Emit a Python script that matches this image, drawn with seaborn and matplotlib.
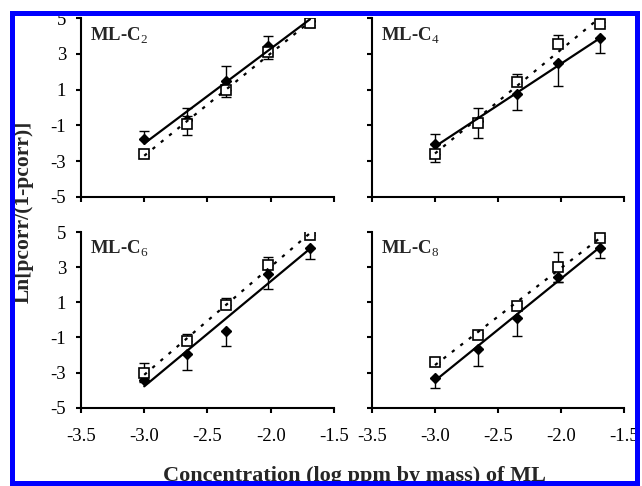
import numpy as np
import pandas as pd
import matplotlib
matplotlib.use("Agg")
import matplotlib.pyplot as plt
import seaborn as sns
from matplotlib.patches import Rectangle

# ---------------- data ----------------
log_conc = [-3.0, -2.66, -2.35, -2.02, -1.69]

panel_names = ["ML-C$_{\\mathrm{2}}$", "ML-C$_{\\mathrm{4}}$",
               "ML-C$_{\\mathrm{6}}$", "ML-C$_{\\mathrm{8}}$"]

# filled diamonds
c2_diamond = [-1.75, -0.70, 1.50, 3.45, 4.85]
c2_diamond_lo = [0.0, 0.0, 0.0, 0.0, 0.2]
c2_diamond_hi = [0.42, 0.65, 0.85, 0.55, 0.2]
c4_diamond = [-2.06, -0.78, 0.76, 2.48, 3.88]
c4_diamond_lo = [0.0, 0.0, 0.9, 1.3, 0.8]
c4_diamond_hi = [0.55, 0.0, 0.0, 0.0, 0.0]
c6_diamond = [-3.40, -1.95, -0.63, 2.60, 4.07]
c6_diamond_lo = [0.15, 0.9, 0.85, 0.85, 0.6]
c6_diamond_hi = [0.0, 0.0, 0.0, 0.0, 0.0]
c8_diamond = [-3.31, -1.65, 0.13, 2.45, 4.11]
c8_diamond_lo = [0.55, 1.0, 1.05, 0.3, 0.6]
c8_diamond_hi = [0.0, 0.0, 0.0, 0.0, 0.0]

# open squares
c2_square = [-2.60, -0.95, 1.00, 3.13, 4.72]
c2_square_lo = [0.1, 0.6, 0.4, 0.42, 0.2]
c2_square_hi = [0.1, 0.5, 0.0, 0.0, 0.2]
c4_square = [-2.62, -0.85, 1.45, 3.54, 4.68]
c4_square_lo = [0.45, 0.85, 0.0, 0.0, 0.1]
c4_square_hi = [0.0, 0.85, 0.4, 0.52, 0.1]
c6_square = [-3.03, -1.23, 0.85, 3.12, 4.83]
c6_square_lo = [0.45, 0.0, 0.0, 0.0, 0.0]
c6_square_hi = [0.6, 0.4, 0.4, 0.45, 0.1]
c8_square = [-2.40, -0.85, 0.81, 3.00, 4.68]
c8_square_lo = [0.1, 0.0, 0.1, 0.87, 0.0]
c8_square_hi = [0.0, 0.1, 0.15, 0.87, 0.1]

x_ticks = [-3.5, -3.0, -2.5, -2.0, -1.5]
x_ticklabels = ["-3.5", "-3.0", "-2.5", "-2.0", "-1.5"]
y_ticks = [-5, -3, -1, 1, 3, 5]
y_ticklabels = ["-5", "-3", "-1", "1", "3", "5"]

x_label = "Concentration (log ppm by mass) of ML"
y_label = "Ln[pcorr/(1-pcorr)]"

diamonds = [(c2_diamond, c2_diamond_lo, c2_diamond_hi),
            (c4_diamond, c4_diamond_lo, c4_diamond_hi),
            (c6_diamond, c6_diamond_lo, c6_diamond_hi),
            (c8_diamond, c8_diamond_lo, c8_diamond_hi)]
squares = [(c2_square, c2_square_lo, c2_square_hi),
           (c4_square, c4_square_lo, c4_square_hi),
           (c6_square, c6_square_lo, c6_square_hi),
           (c8_square, c8_square_lo, c8_square_hi)]

# ---------------- style ----------------
sns.set_style("ticks")
plt.rcParams['font.family'] = ['Liberation Serif', 'DejaVu Serif']
plt.rcParams['mathtext.fontset'] = 'custom'
plt.rcParams['mathtext.rm'] = 'Liberation Serif'
plt.rcParams['mathtext.bf'] = 'Liberation Serif:bold'
plt.rcParams['axes.unicode_minus'] = False

W, H = 642, 486
fig = plt.figure(figsize=(W / 100, H / 100), dpi=100)
fig.patch.set_facecolor('white')

def px_box(left, right, top, bottom):
    return [left / W, 1 - bottom / H, (right - left) / W, (bottom - top) / H]

boxes = [px_box(81, 334, 18.3, 196.7), px_box(372, 624, 18.3, 196.7),
         px_box(81, 334, 232, 407.7), px_box(372, 624, 232, 407.7)]

for i in range(4):
    ax = fig.add_axes(boxes[i])
    ax.set_facecolor('white')
    dy, dlo, dhi = diamonds[i]
    sy, slo, shi = squares[i]

    ax.errorbar(log_conc, dy, yerr=[dlo, dhi], fmt='none', ecolor='black',
                elinewidth=1.0, capsize=3.5, capthick=1.0, zorder=2)
    ax.errorbar(log_conc, sy, yerr=[slo, shi], fmt='none', ecolor='black',
                elinewidth=1.0, capsize=3.5, capthick=1.0, zorder=2)
    ax.plot(log_conc, dy, linestyle='none', marker='D', ms=4.6,
            color='black', zorder=3)
    ax.plot(log_conc, sy, linestyle='none', marker='s', ms=7,
            mfc='white', mec='black', mew=1.2, zorder=3)

    sns.regplot(x=log_conc, y=dy, ax=ax, scatter=False, ci=None, truncate=True,
                line_kws=dict(color='black', lw=1.6, zorder=4))
    sns.regplot(x=log_conc, y=sy, ax=ax, scatter=False, ci=None, truncate=True,
                line_kws=dict(color='black', lw=1.6, zorder=4,
                              linestyle=(0, (1.5, 3.3))))

    ax.set_xlim(-3.5, -1.5)
    ax.set_ylim(-5, 5)
    ax.set_xticks(x_ticks)
    ax.set_yticks(y_ticks)
    ax.set_xticklabels(x_ticklabels if i >= 2 else [])
    ax.set_yticklabels(y_ticklabels if i % 2 == 0 else [])
    ax.set_xlabel("")
    ax.set_ylabel("")
    for s in ['top', 'right']:
        ax.spines[s].set_visible(False)
    for s in ['left', 'bottom']:
        ax.spines[s].set_linewidth(1.5)
        ax.spines[s].set_color('black')
    ax.tick_params(axis='both', direction='out', length=3.8, width=1.5,
                   color='black', labelsize=13.5, labelcolor='black')
    ax.tick_params(axis='x', pad=11)
    ax.tick_params(axis='y', pad=7)
    ax.text(0.036, 0.875, panel_names[i], transform=ax.transAxes,
            fontsize=13.5, fontweight='bold', ha='left', va='baseline')

fig.text(354 / W, 1 - 481 / H, x_label, fontsize=16, fontweight='bold',
         ha='center', va='baseline')
fig.text(24 / W, 1 - 212 / H, y_label, fontsize=15.5, fontweight='bold',
         ha='center', va='center', rotation=90)

# frame: white outside, blue border
def add_rect(l, t, r, b, color):
    fig.add_artist(Rectangle((l / W, 1 - b / H), (r - l) / W, (b - t) / H,
                             transform=fig.transFigure, facecolor=color,
                             edgecolor='none', zorder=20))

add_rect(0, 0, W, 11, 'white')
add_rect(0, 0, 10, H, 'white')
add_rect(640, 0, W, H, 'white')
add_rect(10, 11, 640, 16, '#0000FF')
add_rect(10, 11, 15, H, '#0000FF')
add_rect(635, 11, 640, H, '#0000FF')
add_rect(10, 481, 640, H, '#0000FF')

fig.savefig("out.png", dpi=100, facecolor='white')
